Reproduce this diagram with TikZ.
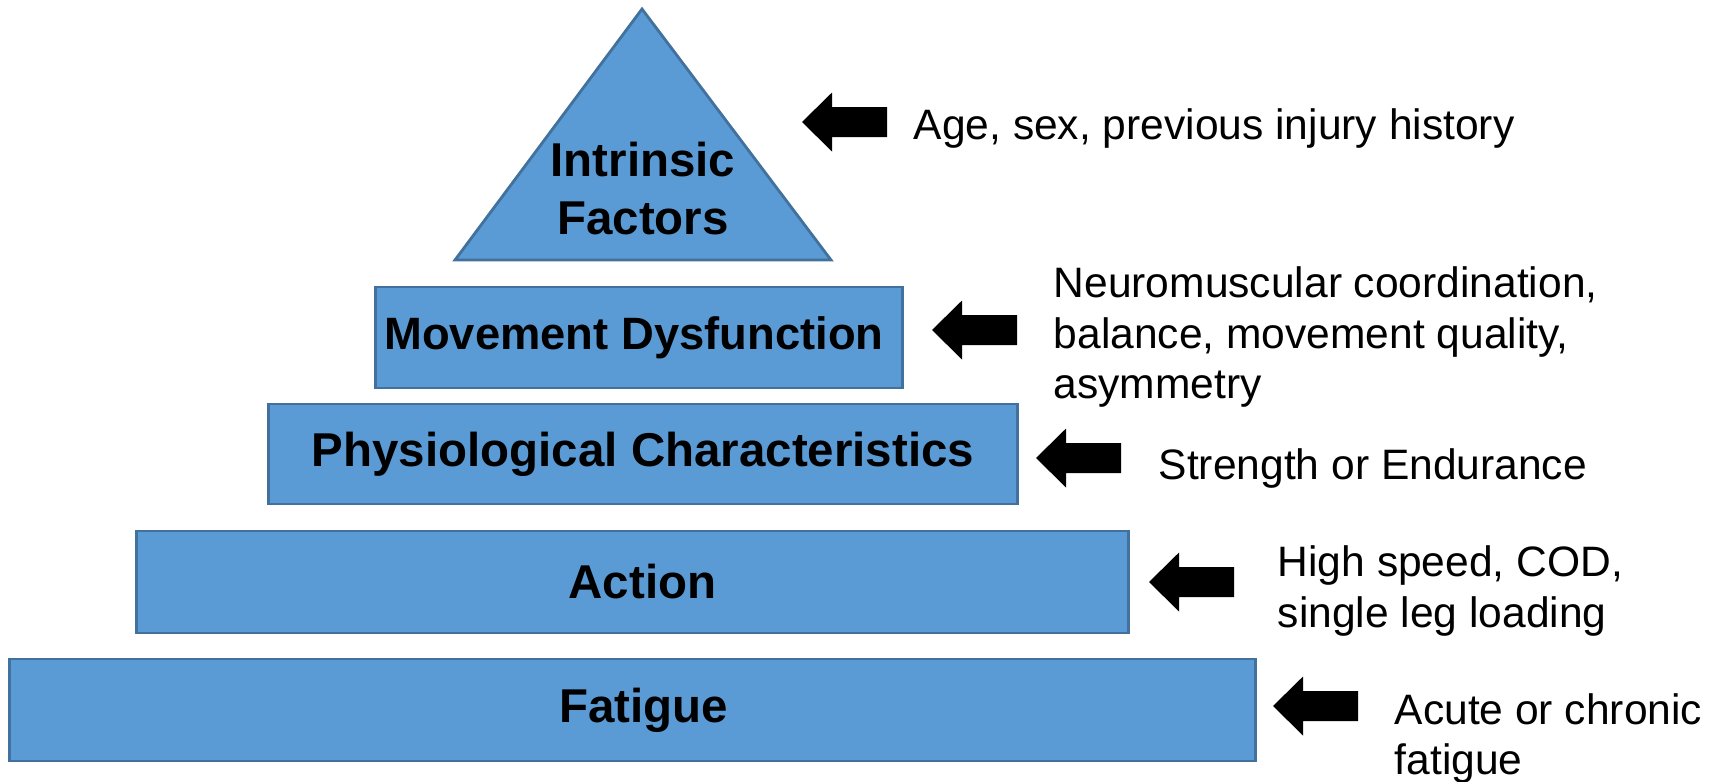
\documentclass[tikz,border=0pt]{standalone}
\usepackage{fontspec}
\setmainfont{Liberation Sans}
\usepackage{xcolor}
\usepackage{tikz}
\usetikzlibrary{positioning,calc}
\definecolor{tierblue}{RGB}{91,155,213}
\definecolor{tierline}{RGB}{65,113,156}

\tikzset{
  tier/.style={draw=tierline, fill=tierblue, line width=0.8pt, inner sep=0pt,
               font=\fontsize{13.5pt}{16.5pt}\selectfont\bfseries},
  factor/.style={anchor=west, inner sep=0pt, align=left,
                 font=\fontsize{12.1pt}{14.3pt}\selectfont},
}

\begin{document}
\begin{tikzpicture}[x=0.01cm, y=-0.01cm]
  \useasboundingbox (0,0) rectangle (1710,781);
  % Top of the pyramid
  \draw[tier] (455,260) -- (642,9) -- (831,260) -- cycle;
  \node[font=\fontsize{13.5pt}{16.5pt}\selectfont\bfseries, align=center]
    (intrinsic) at (643,189) {Intrinsic\\Factors};
  % Tiers
  \node[tier, minimum width=5.26cm, minimum height=1.01cm,
        font=\fontsize{12.9pt}{16pt}\selectfont\bfseries] (movement) at (639,337.5) {\hspace*{-0.1cm}Movement Dysfunction};
  \node[tier, minimum width=7.48cm, minimum height=1.00cm] (physio) at (643,454) {Physiological Characteristics};
  \node[tier, minimum width=9.91cm, minimum height=1.02cm] (action) at (632.5,582) {\hspace*{0.2cm}Action};
  \node[tier, minimum width=12.45cm, minimum height=1.02cm] (fatigue) at (632.5,710) {\hspace*{0.22cm}Fatigue};
  % Block arrows
  \foreach \tx/\ty in {802/122, 932/330, 1036/458, 1149/582, 1273/706}{
    \fill[black] (\tx,\ty) -- ++(30,-29.5) -- ++(0,14.5) -- ++(55,0) -- ++(0,30)
      -- ++(-55,0) -- ++(0,14.5) -- cycle;
  }
  % Factor texts
  \node[factor] (agesex) at (913,128) {Age, sex, previous injury history};
  \node[factor] (neuro) at (1053,337) {Neuromuscular coordination,\\balance, movement quality,\\asymmetry};
  \node[factor] (strength) at (1158,468) {Strength or Endurance};
  \node[factor] (speed) at (1277,591) {High speed, COD,\\single leg loading};
  \node[factor] (acute) at (1394,738.5) {Acute or chronic\\fatigue};
\end{tikzpicture}
\end{document}
